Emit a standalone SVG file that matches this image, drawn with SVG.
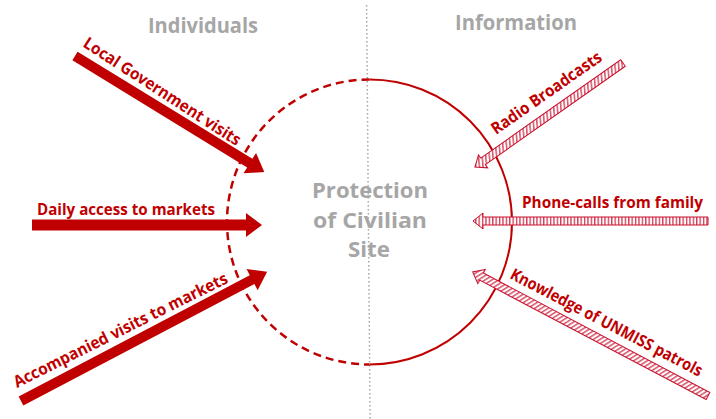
<svg xmlns="http://www.w3.org/2000/svg" width="716" height="419" viewBox="0 0 716 419">
<style>
.lbl{font-family:"Open Sans","Liberation Sans",sans-serif;font-weight:bold;font-size:16.5px;fill:#C00000}
.head{font-family:"Open Sans","Liberation Sans",sans-serif;font-weight:bold;font-size:21px;fill:#A6A6A6}
.solid{fill:#C00000;stroke:none}
.hatch{fill:url(#stripes);stroke:#C8102E;stroke-width:1}
.hatchv{fill:url(#stripesv);stroke:#C8102E;stroke-width:1}
</style>
<defs>
<pattern id="stripes" patternUnits="userSpaceOnUse" width="3.6" height="10" patternTransform="rotate(30)">
<rect width="3.6" height="10" fill="#fff"/>
<line x1="1" y1="0" x2="1" y2="10" stroke="#C8102E" stroke-width="1.1"/>
</pattern>
<pattern id="stripesv" patternUnits="userSpaceOnUse" width="3.4" height="10">
<rect width="3.4" height="10" fill="#fff"/>
<line x1="1" y1="0" x2="1" y2="10" stroke="#C8102E" stroke-width="1.1"/>
</pattern>
</defs>
<rect width="716" height="419" fill="#fff"/>
<line x1="366.6" y1="5" x2="370.1" y2="419" stroke="#A6A6A6" stroke-width="1.5" stroke-dasharray="1.5 2.5"/>
<g id="heading-individuals"><text class="head" x="148" y="33" textLength="110" lengthAdjust="spacingAndGlyphs">Individuals</text></g>
<g id="heading-information"><text class="head" x="455" y="30" textLength="122" lengthAdjust="spacingAndGlyphs">Information</text></g>
<g id="site">
<path d="M369.5 79.5 A142.5 142.5 0 0 0 369.5 364.5" fill="none" stroke="#C00000" stroke-width="2.5" stroke-dasharray="8 5"/>
<path d="M369.5 79.5 A142.5 142.5 0 0 1 369.5 364.5" fill="none" stroke="#C00000" stroke-width="2"/>
<g class="head" text-anchor="middle">
<text x="370" y="198" textLength="116" lengthAdjust="spacingAndGlyphs">Protection</text>
<text x="370" y="228" textLength="114" lengthAdjust="spacingAndGlyphs">of Civilian</text>
<text x="369" y="257" textLength="42" lengthAdjust="spacingAndGlyphs">Site</text>
</g>
</g>
<g id="connectors">
<polygon class="solid" transform="translate(75,56) rotate(31.5)" points="0,-5 205,-5 205,-12 222,0 205,12 205,5 0,5"/>
<polygon class="solid" transform="translate(32,225) rotate(0)" points="0,-5.5 214,-5.5 214,-12 230,0 214,12 214,5.5 0,5.5"/>
<polygon class="solid" transform="translate(21,401) rotate(-27.7)" points="0,-5 261,-5 261,-12 278,0 261,12 261,5 0,5"/>
<polygon class="hatch" transform="translate(623,63) rotate(144.9)" points="0,-4 171,-4 171,-8 181,0 171,8 171,4 0,4"/>
<polygon class="hatchv" transform="translate(708,221) rotate(180)" points="0,-4 225,-4 225,-8 235,0 225,8 225,4 0,4"/>
<polygon class="hatch" transform="translate(708,396) rotate(207.8)" points="0,-4 256,-4 256,-8 266,0 256,8 256,4 0,4"/>
</g>
<g id="label-local"><text class="lbl" transform="translate(82,46) rotate(33)" textLength="184" lengthAdjust="spacingAndGlyphs">Local Government visits</text></g>
<g id="label-daily"><text class="lbl" x="37" y="215" textLength="178" lengthAdjust="spacingAndGlyphs">Daily access to markets</text></g>
<g id="label-accompanied"><text class="lbl" transform="translate(17,388) rotate(-26.5)" textLength="237" lengthAdjust="spacingAndGlyphs">Accompanied visits to markets</text></g>
<g id="label-radio"><text class="lbl" transform="translate(496,135) rotate(-35)" textLength="131" lengthAdjust="spacingAndGlyphs">Radio Broadcasts</text></g>
<g id="label-phone"><text class="lbl" x="522" y="208" textLength="181" lengthAdjust="spacingAndGlyphs">Phone-calls from family</text></g>
<g id="label-knowledge"><text class="lbl" transform="translate(509,278) rotate(27.5) scale(1,1.25)" style="font-size:13.2px" textLength="214" lengthAdjust="spacingAndGlyphs">Knowledge of UNMISS patrols</text></g>
</svg>
